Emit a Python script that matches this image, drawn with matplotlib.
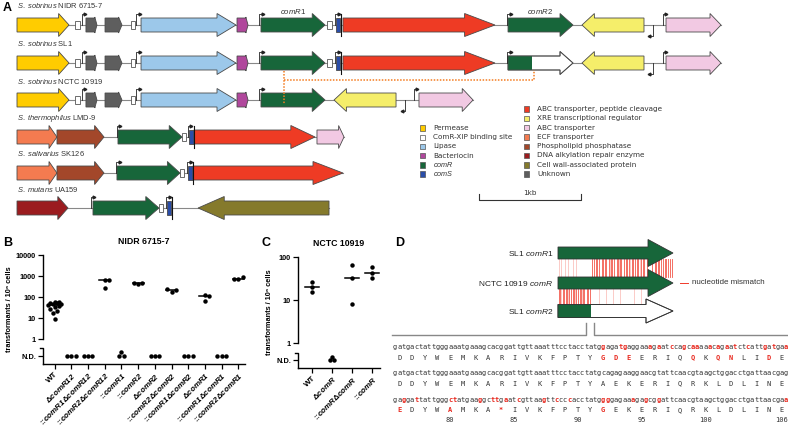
import numpy as np
import matplotlib.pyplot as plt
from matplotlib.patches import Polygon, Rectangle

plt.rcParams['font.family'] = 'Liberation Sans'
plt.rcParams['mathtext.fontset'] = 'custom'
plt.rcParams['mathtext.rm'] = 'Liberation Sans'
plt.rcParams['mathtext.it'] = 'Liberation Sans:italic'
plt.rcParams['mathtext.bf'] = 'Liberation Sans:bold'
plt.rcParams['mathtext.bfit'] = 'Liberation Sans:italic:bold'

# ---------------- panel A data (positions in bp) ----------------
gene_colors = {
    'perm': '#FFCC00', 'site': '#FFFFFF', 'lip': '#9CC8EA', 'bac': '#B0479C',
    'comR': '#17663A', 'comS': '#2A4DA8', 'abcpep': '#EE3B24', 'xre': '#F5EE6A',
    'abc': '#F2C9E3', 'ecf': '#F47B50', 'phos': '#A3472A', 'dna': '#9B1C1F',
    'cw': '#857A2C', 'unk': '#5E5E5E',
}
legend_left = [('perm', 'Permease'), ('site', 'ComR-XIP binding site'), ('lip', 'Lipase'),
               ('bac', 'Bacteriocin'), ('comR', r'$\mathit{comR}$'), ('comS', r'$\mathit{comS}$')]
legend_right = [('abcpep', 'ABC transporter, peptide cleavage'), ('xre', 'XRE transcriptional regulator'),
                ('abc', 'ABC transporter'), ('ecf', 'ECF transporter'), ('phos', 'Phospholipid phosphatase'),
                ('dna', 'DNA alkylation repair enzyme'), ('cw', 'Cell wall-associated protein'), ('unk', 'Unknown')]

row_names = [r'$\mathit{S.\ sobrinus}$ NIDR 6715-7', r'$\mathit{S.\ sobrinus}$ SL1',
             r'$\mathit{S.\ sobrinus}$ NCTC 10919', r'$\mathit{S.\ thermophilus}$ LMD-9',
             r'$\mathit{S.\ salivarius}$ SK126', r'$\mathit{S.\ mutans}$ UA159']

sob_start = [(0, 510, 1, 'perm'), (676, 784, 1, 'unk'), (863, 1029, 1, 'unk'), (1216, 2147, 1, 'lip'),
             (2157, 2265, 1, 'bac'), (2392, 3020, 1, 'comR')]
row_genes = [
    sob_start + [(3127, 3167, 1, 'comS'), (3196, 4686, 1, 'abcpep'), (4814, 5451, 1, 'comR'),
                 (5539, 6147, -1, 'xre'), (6363, 6902, 1, 'abc')],
    sob_start + [(3127, 3167, 1, 'comS'), (3196, 4686, 1, 'abcpep'), (4814, 5451, 1, 'trunc'),
                 (5539, 6147, -1, 'xre'), (6363, 6902, 1, 'abc')],
    sob_start + [(3108, 3716, -1, 'xre'), (3941, 4471, 1, 'abc')],
    [(0, 392, 1, 'ecf'), (392, 853, 1, 'phos'), (990, 1618, 1, 'comR'), (1686, 1735, 1, 'comS'),
     (1735, 2922, 1, 'abcpep'), (2941, 3206, 1, 'abc')],
    [(0, 392, 1, 'ecf'), (392, 853, 1, 'phos'), (980, 1598, 1, 'comR'), (1676, 1725, 1, 'comS'),
     (1725, 3196, 1, 'abcpep')],
    [(0, 500, 1, 'dna'), (745, 1392, 1, 'comR'), (1471, 1510, 1, 'comS'), (1775, 3059, -1, 'cw')],
]
row_sites = [
    [(569, 618), (1118, 1157), (3039, 3088)],
    [(569, 618), (1118, 1157), (3039, 3088)],
    [(569, 618), (1118, 1157)],
    [(1618, 1657)], [(1598, 1637)], [(1392, 1431)],
]
row_promoters = [
    [(637, 1), (1167, 1), (2373, 1), (3118, 1), (4804, 1), (6235, -1), (6333, 1)],
    [(637, 1), (1167, 1), (2373, 1), (3118, 1), (4804, 1), (6235, -1), (6333, 1)],
    [(637, 1), (1167, 1), (2373, 1), (3804, -1), (3892, 1)],
    [(980, 1), (1676, 1)], [(971, 1), (1667, 1)], [(725, 1), (1461, 1)],
]
trunc_frac = 0.37
gene_labels = [(r'$\mathit{comR1}$', 2706), (r'$\mathit{comR2}$', 5132)]
deletion_link = (2618, 5069)

# ---------------- panel B / C data ----------------
ND = np.nan
DL = r'\mathbf{\Delta}'
B_labels = ['WT', rf'${DL}\mathbfit{{comR12}}$', rf'::$\mathbfit{{comR1}}{DL}\mathbfit{{comR12}}$',
            rf'::$\mathbfit{{comR2}}{DL}\mathbfit{{comR12}}$', r'::$\mathbfit{comR1}$', r'::$\mathbfit{comR2}$',
            rf'${DL}\mathbfit{{comR2}}$', rf'::$\mathbfit{{comR2}}{DL}\mathbfit{{comR2}}$',
            rf'::$\mathbfit{{comR1}}{DL}\mathbfit{{comR2}}$', rf'${DL}\mathbfit{{comR1}}$',
            rf'::$\mathbfit{{comR1}}{DL}\mathbfit{{comR1}}$', rf'::$\mathbfit{{comR2}}{DL}\mathbfit{{comR1}}$']
B_values = [
    [58, 55, 52, 50, 47, 45, 42, 38, 33, 28, 22, 18, 8.5],
    [ND, ND, ND], [ND, ND, ND], [650, 650, 270], [ND, ND, ND], [430, 460, 450],
    [ND, ND, ND], [180, 220, 230], [ND, ND, ND], [130, 115, 65], [ND, ND, ND], [700, 900, 750],
]
B_stacked = [4]
C_labels = ['WT', rf'${DL}\mathbfit{{comR}}$', rf'::$\mathbfit{{comR}}{DL}\mathbfit{{comR}}$', r'::$\mathbfit{comR}$']
C_values = [[26, 20, 15.5], [ND, ND, ND], [65, 32, 8], [58, 32, 42]]
C_stacked = [1]

# ---------------- panel D data ----------------
seq_sl1_r1 = ('gat gac tat tgg gaa atg aaa gca cgg att gtt aaa ttt cct acc tat '
              'gga gat gag gaa aga atc cag caa aaa cag aat ctc att gat gaa').replace(' ', '')
seq_nctc = ('gat gac tat tgg gaa atg aaa gca cgg att gtt aaa ttt cct acc tat '
            'gca gag aag gaa cgt att caa cgt aag ctg gac ctg att aac gag').replace(' ', '')
seq_sl1_r2 = ('gag gat tat tgg gct atg aag gct tga atc gtt aag ttc ccc acc tat '
              'ggg gag aaa gag cgg att caa cgt aag ctg gac ctg att aac gaa').replace(' ', '')
aa_sl1_r1 = 'DDYWEMKARIVKFPTYGDEERIQQKQNLIDE'
aa_nctc = 'DDYWEMKARIVKFPTYAEKERIQRKLDLINE'
aa_sl1_r2 = 'EDYWAMKA*IVKFPTYGEKERIQRKLDLINE'
aa_first = 76
aa_ticks = [80, 85, 90, 95, 100, 106]
mm_upper_strong = [30, 31, 33, 34, 36, 38, 39, 41, 42, 44, 46, 47, 49, 51, 52, 54, 55, 57, 59, 60, 62, 64,
                   65, 67, 69, 70, 72, 74, 75, 77, 82, 84, 85, 87, 88, 90, 91, 93, 94, 96, 97, 99]
mm_upper_light = [1, 3, 6, 9, 13, 16, 45, 53, 63, 71]
mm_lower_strong = [1, 2, 4, 5, 7, 8, 10, 11, 13, 14, 16, 17, 19, 20, 22, 23, 25, 26, 28]
mm_lower_light = [3, 9, 15, 21, 36, 42, 48, 54, 66, 72]

# ================= drawing =================
W, H = 788, 429
fig = plt.figure(figsize=(W / 100, H / 100), dpi=100)
A = fig.add_axes([0, 0, 1, 1])
A.set_xlim(0, W)
A.set_ylim(H, 0)
A.axis('off')

EC = '#4a4a4a'
RED = '#E8281E'
LEG_FONT = 'DejaVu Sans'


def px(bp):
    return 17 + bp * 0.102


def arrow(x0, x1, y, fc, strand=1, bh=7, hh=11.5, hl=None, ec=EC, z=3):
    L = x1 - x0
    if hl is None:
        hl = 0.2 * L
    if strand > 0:
        pts = [(x0, y - bh), (x1 - hl, y - bh), (x1 - hl, y - hh), (x1, y), (x1 - hl, y + hh),
               (x1 - hl, y + bh), (x0, y + bh)]
    else:
        pts = [(x1, y - bh), (x0 + hl, y - bh), (x0 + hl, y - hh), (x0, y), (x0 + hl, y + hh),
               (x0 + hl, y + bh), (x1, y + bh)]
    A.add_patch(Polygon(pts, closed=True, fc=fc, ec=ec, lw=0.6, zorder=z))


def promoter(x, y, strand):
    if strand > 0:
        A.plot([x, x, x + 3], [y, y - 11, y - 11], color='#222', lw=0.6, zorder=4)
        A.plot(x + 3.5, y - 11, marker='>', ms=2, color='#222', zorder=4)
    else:
        A.plot([x, x, x - 3], [y, y + 11, y + 11], color='#222', lw=0.6, zorder=4)
        A.plot(x - 3.5, y + 11, marker='<', ms=2, color='#222', zorder=4)


row_y = [25, 63, 100, 137, 173, 208]
for name, y, genes, sites, proms in zip(row_names, row_y, row_genes, row_sites, row_promoters):
    A.text(17, y - 19, name, fontsize=5.4, va='center', ha='left', color='#333')
    xs = [g[0] for g in genes] + [g[1] for g in genes]
    A.plot([px(min(xs)), px(max(xs))], [y, y], color='#888', lw=0.8, zorder=1)
    for s, e, strand, kind in genes:
        x0, x1 = px(s), px(e)
        L = x1 - x0
        big = L > 25
        if kind == 'comS':
            A.add_patch(Rectangle((x0, y - 7), L, 14, fc=gene_colors['comS'], ec=EC, lw=0.6, zorder=3))
            A.plot([x1 + 0.5, x1 + 0.5], [y - 11, y + 11], color='#111', lw=0.8, zorder=4)
        elif kind == 'trunc':
            arrow(x0, x1, y, 'white', strand)
            A.add_patch(Rectangle((x0, y - 7), L * trunc_frac, 14, fc=gene_colors['comR'], ec='none', zorder=3.5))
            arrow(x0, x1, y, 'none', strand, z=4)
        else:
            arrow(x0, x1, y, gene_colors[kind], strand, hh=11.5 if big else 8)
    for s, e in sites:
        A.add_patch(Rectangle((px(s), y - 4), px(e) - px(s), 8, fc='white', ec='#555', lw=0.6, zorder=3))
    for p, strand in proms:
        promoter(px(p), y, strand)

for lab, pos in gene_labels:
    A.text(px(pos), 12, lab, fontsize=5.6, ha='center', va='center', color='#333')

# deletion link (orange dotted)
xa, xb = px(deletion_link[0]), px(deletion_link[1])
A.plot([xa, xa], [71, 104], color='#F47C20', lw=1.1, ls=(0, (1, 1)), zorder=5)
A.plot([xa, xb, xb], [80, 80, 70], color='#F47C20', lw=1.1, ls=(0, (1, 1)), zorder=5)

# legend
for i, (k, t) in enumerate(legend_left):
    yy = 128 + i * 9.2
    A.add_patch(Rectangle((420, yy - 2.7), 5.4, 5.4, fc=gene_colors[k], ec='#555', lw=0.5))
    A.text(433, yy, t, fontsize=5.2, va='center', color='#333', family=LEG_FONT)
for i, (k, t) in enumerate(legend_right):
    yy = 109 + i * 9.3
    A.add_patch(Rectangle((524, yy - 2.7), 5.4, 5.4, fc=gene_colors[k], ec='#555', lw=0.5))
    A.text(537, yy, t, fontsize=5.2, va='center', color='#333', family=LEG_FONT)

# scale bar 1 kb
sb0, sb1 = px(4525), px(5525)
A.plot([sb0, sb0, sb1, sb1], [194, 200, 200, 194], color='#333', lw=0.8)
A.text((sb0 + sb1) / 2, 193, '1kb', fontsize=5.2, ha='center', va='center', color='#333', family=LEG_FONT)

# panel letters
for letter, x, y in [('A', 3, 8), ('B', 3, 243), ('C', 262, 243), ('D', 395, 243)]:
    A.text(x, y, letter, fontsize=9, fontweight='bold', va='center', ha='left')


# ---------------- panels B and C ----------------
def dot_plot(ax, labels, values, stacked, nd, ylo, yhi, brk, title, ticks):
    ax.set_xlim(-0.7, len(labels) - 0.6)
    ax.set_ylim(ylo, yhi)
    bb = ax.get_window_extent()
    pxx = bb.width / (len(labels) - 0.6 + 0.7)
    pxy = bb.height / (yhi - ylo)
    d = 4.3
    cands = [0, 0.5, -0.5, 1, -1, 1.5, -1.5]
    for i, vals in enumerate(values):
        ys = [np.log10(v) if np.isfinite(v) else nd for v in vals]
        placed = []
        for j, yv in enumerate(ys):
            yp = yv * pxy
            if i in stacked and j == 2:
                placed.append((0.0, yp + 0.85 * d))
                continue
            best, bestd = 0.0, -1
            for k in cands:
                xo = k * d
                md = min([np.hypot(xo - a, yp - b) for a, b in placed] + [99])
                if md >= 0.95 * d:
                    best = xo
                    break
                if md > bestd:
                    best, bestd = xo, md
            placed.append((best, yp))
        if i in stacked:
            placed = [(-0.5 * d, placed[0][1]), (0.5 * d, placed[1][1]), placed[2]]
        xs = [i + a / pxx for a, b in placed]
        yy = [b / pxy for a, b in placed]
        ax.plot(xs, yy, 'o', color='black', ms=3.2, mew=0, clip_on=False, zorder=3)
        fin = [v for v in vals if np.isfinite(v)]
        if fin:
            m = np.log10(np.median(fin))
            ax.plot([i - 0.33, i + 0.33], [m, m], color='black', lw=1.1, zorder=2)
    for s in ['top', 'right', 'left']:
        ax.spines[s].set_visible(False)
    ax.spines['bottom'].set_linewidth(1.0)
    tr = ax.get_yaxis_transform()
    ax.plot([0, 0], [0, yhi], color='black', lw=1.0, transform=tr, clip_on=False)
    ax.plot([-3.5 / bb.width, 0, 0], [brk, brk, ylo], color='black', lw=1.0, transform=tr, clip_on=False)
    ax.set_yticks([nd] + list(range(len(ticks))))
    ax.set_yticklabels(['N.D.'] + ticks, fontsize=5.3, fontweight='bold')
    ax.set_xticks(range(len(labels)))
    ax.set_xticklabels(labels, rotation=45, ha='right', rotation_mode='anchor', fontsize=5.8, fontweight='bold')
    ax.tick_params(length=3.5, width=0.9, pad=1.5)
    ax.set_title(title, fontsize=6.3, fontweight='bold', pad=8)
    ax.set_ylabel('transformants / 10⁸ cells', fontsize=5.3, fontweight='bold', labelpad=2)
    ax.patch.set_alpha(0)


B = fig.add_axes([43 / W, 1 - 364 / H, 202 / W, 109 / H])
dot_plot(B, B_labels, B_values, B_stacked, -0.81, -1.19, 4, -0.43, 'NIDR 6715-7',
         ['1', '10', '100', '1000', '10000'])
C = fig.add_axes([298 / W, 1 - 368 / H, 82 / W, 111 / H])
dot_plot(C, C_labels, C_values, C_stacked, -0.4, -0.58, 2, -0.23, 'NCTC 10919', ['1', '10', '100'])

# ---------------- panel D ----------------
dx0, dx1 = 558, 673
d_rows = [(253, r'SL1 $\mathit{comR1}$', 'full'), (283, r'NCTC 10919 $\mathit{comR}$', 'full'),
          (311, r'SL1 $\mathit{comR2}$', 'trunc')]
for y, lab, kind in d_rows:
    A.text(553, y, lab, fontsize=6, ha='right', va='center', color='#222')
    if kind == 'full':
        arrow(dx0, dx1, y, gene_colors['comR'], bh=6, hh=13.5, hl=25, ec='#333')
    else:
        arrow(dx0, dx1, y, 'white', bh=6.5, hh=12, hl=27, ec='#333')
        A.add_patch(Rectangle((dx0, y - 6.5), (dx1 - dx0) * 0.29, 13, fc=gene_colors['comR'], ec='none', zorder=3.5))
        arrow(dx0, dx1, y, 'none', bh=6.5, hh=12, hl=27, ec='#333', z=4)

for lst, alpha, (ya, yb) in [(mm_upper_light, 0.3, (259, 277)), (mm_upper_strong, 0.85, (259, 277)),
                             (mm_lower_light, 0.3, (289, 304.5)), (mm_lower_strong, 0.85, (289, 304.5))]:
    for p in lst:
        xx = dx0 + (dx1 - dx0) * p / 100
        A.plot([xx, xx], [ya, yb], color='#F03A2A', lw=0.6, alpha=alpha, zorder=2)
A.plot([680, 688], [283, 283], color='#F03A2A', lw=0.7)
A.text(692, 283, 'nucleotide mismatch', fontsize=5.8, va='center', color='#333')

# bracket to sequences
A.plot([586, 586, 392], [323, 335, 335], color='#888', lw=1)
A.plot([594, 594, 788], [323, 335, 335], color='#888', lw=1)

sx0 = 395
sdx = (786 - 395) / 92
blocks = [(347, seq_sl1_r1, aa_sl1_r1), (373, seq_nctc, aa_nctc), (400, seq_sl1_r2, aa_sl1_r2)]
for y, nt, aa in blocks:
    for i, ch in enumerate(nt):
        diff = ch != seq_nctc[i]
        A.text(sx0 + i * sdx, y, ch, family='DejaVu Sans Mono', fontsize=5, ha='center', va='center',
               color=RED if diff else '#333', fontweight='bold' if diff else 'normal')
    for i, ch in enumerate(aa):
        diff = ch != aa_nctc[i]
        A.text(sx0 + (3 * i + 1) * sdx, y + 10.5, ch, family='DejaVu Sans Mono', fontsize=5, ha='center',
               va='center', color=RED if diff else '#333', fontweight='bold' if diff else 'normal')
for n in aa_ticks:
    i = n - aa_first
    A.text(sx0 + (3 * i + 1) * sdx, 420, str(n), family='DejaVu Sans Mono', fontsize=5, ha='center',
           va='center', color='#333')

fig.savefig('out.png', dpi=100)
